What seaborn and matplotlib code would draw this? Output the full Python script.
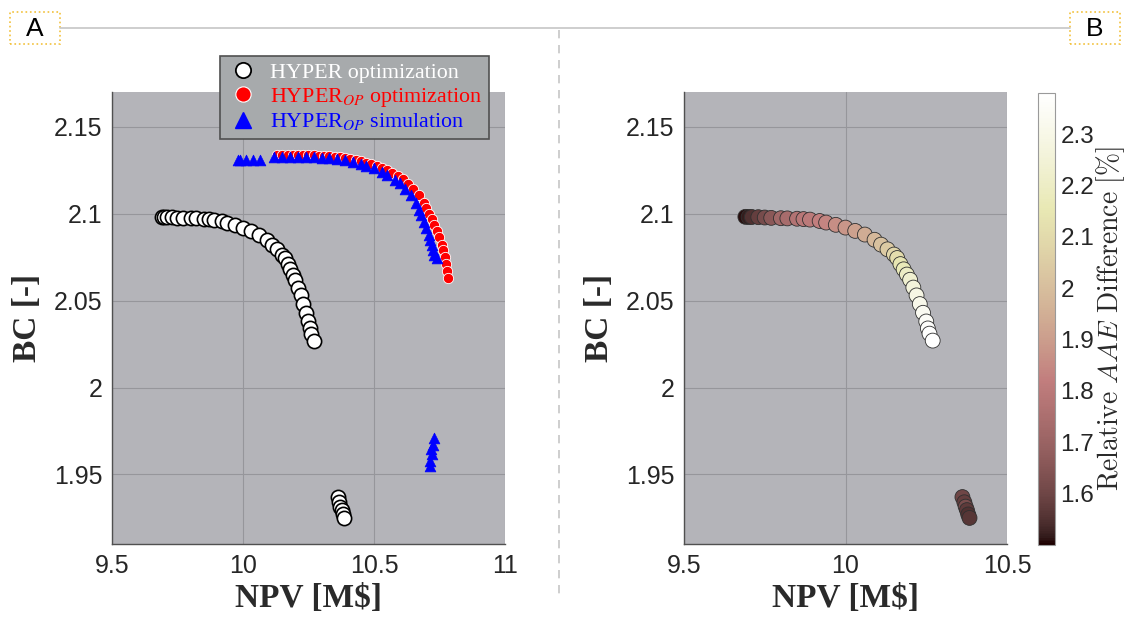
import matplotlib
matplotlib.use('Agg')
import matplotlib.pyplot as plt
import seaborn as sns
import pandas as pd
from matplotlib.lines import Line2D
from matplotlib.patches import Rectangle
from matplotlib.font_manager import FontProperties
from matplotlib.ticker import FuncFormatter
from matplotlib.cm import ScalarMappable
from matplotlib.colors import Normalize

# HYPER optimization front (panel A white circles, panel B coloured circles)
hyper_npv = [9.69, 9.70, 9.71, 9.73, 9.75, 9.77, 9.80, 9.82, 9.85, 9.87,
             9.89, 9.92, 9.94, 9.97, 10.00, 10.03, 10.06, 10.09, 10.11, 10.13,
             10.15, 10.16, 10.17, 10.18, 10.19, 10.20, 10.21, 10.22, 10.23, 10.24,
             10.25, 10.255, 10.26, 10.27,
             10.362, 10.368, 10.372, 10.376, 10.380, 10.384]
hyper_bc = [2.0982, 2.0981, 2.0981, 2.0980, 2.0978, 2.0976, 2.0974, 2.0973, 2.0971, 2.0969,
            2.0966, 2.0958, 2.0949, 2.0936, 2.0920, 2.0901, 2.0880, 2.0850, 2.0822, 2.0795,
            2.0765, 2.0745, 2.0710, 2.0680, 2.0650, 2.0620, 2.0575, 2.0530, 2.0480, 2.0430,
            2.0380, 2.0340, 2.0310, 2.0270,
            1.9370, 1.9340, 1.9315, 1.9295, 1.9270, 1.9250]
# relative AAE difference [%] for each HYPER point (panel B colours)
aae_diff = [1.51, 1.52, 1.55, 1.58, 1.62, 1.66, 1.72, 1.74, 1.77, 1.79,
            1.80, 1.82, 1.84, 1.86, 1.88, 1.91, 1.94, 1.98, 2.01, 2.04,
            2.08, 2.11, 2.14, 2.17, 2.20, 2.23, 2.26, 2.29, 2.31, 2.33,
            2.35, 2.36, 2.37, 2.38,
            1.60, 1.58, 1.62, 1.57, 1.55, 1.56]

# HYPER_OP optimization (red circles)
op_opt_npv = [10.13, 10.15, 10.17, 10.19, 10.21, 10.23, 10.25, 10.27, 10.29, 10.31,
              10.33, 10.35, 10.37, 10.39, 10.41, 10.43, 10.45, 10.47, 10.49, 10.51,
              10.53, 10.55, 10.57, 10.59, 10.61, 10.63, 10.65, 10.67, 10.69, 10.70,
              10.71, 10.72, 10.73, 10.74, 10.75, 10.76, 10.765, 10.77, 10.775, 10.78, 10.782]
op_opt_bc = [2.1335, 2.1336, 2.1337, 2.1337, 2.1337, 2.1336, 2.1336, 2.1335, 2.1334, 2.1333,
             2.1331, 2.1328, 2.1325, 2.1321, 2.1316, 2.1310, 2.1303, 2.1294, 2.1284, 2.1273,
             2.1262, 2.1250, 2.1234, 2.1218, 2.1197, 2.1172, 2.1140, 2.1105, 2.1060, 2.1030,
             2.1000, 2.0970, 2.0935, 2.0900, 2.0865, 2.0820, 2.0790, 2.0750, 2.0710, 2.0670, 2.0630]

# HYPER_OP simulation (blue triangles)
op_sim_npv = [9.98, 9.99, 10.01, 10.04, 10.065, 10.12, 10.15, 10.18, 10.21, 10.24,
              10.27, 10.30, 10.33, 10.36, 10.39, 10.42, 10.45, 10.47, 10.50, 10.53,
              10.55, 10.58, 10.60, 10.62, 10.64, 10.66, 10.67, 10.68, 10.69, 10.70,
              10.71, 10.715, 10.72, 10.725, 10.73, 10.74,
              10.712, 10.715, 10.72, 10.718, 10.725, 10.73]
op_sim_bc = [2.1310, 2.1310, 2.1310, 2.1310, 2.1310, 2.1325, 2.1327, 2.1328, 2.1328, 2.1327,
             2.1325, 2.1322, 2.1318, 2.1313, 2.1306, 2.1298, 2.1285, 2.1272, 2.1260, 2.1240,
             2.1225, 2.1195, 2.1175, 2.1140, 2.1110, 2.1060, 2.1020, 2.0990, 2.0950, 2.0920,
             2.0880, 2.0850, 2.0820, 2.0790, 2.0760, 2.0745,
             1.9550, 1.9580, 1.9615, 1.9645, 1.9670, 1.9710]

legend_labels = ['HYPER optimization', r'HYPER$_{OP}$ optimization', r'HYPER$_{OP}$ simulation']
bc_ticks = [1.95, 2.0, 2.05, 2.1, 2.15]
cbar_ticks = [1.6, 1.7, 1.8, 1.9, 2.0, 2.1, 2.2, 2.3]

sns.set_style('white')
plt.rcParams['font.family'] = ['Liberation Sans', 'DejaVu Sans']

W, H = 1131, 618
fig = plt.figure(figsize=(W / 100, H / 100), dpi=100)
ax_a = fig.add_axes([112 / W, 1 - 544 / H, 393 / W, 452 / H])
ax_b = fig.add_axes([684 / W, 1 - 544 / H, 323 / W, 452 / H])
cax = fig.add_axes([1038 / W, 1 - 545 / H, 17 / W, 452 / H])

fmt = FuncFormatter(lambda v, p: f'{v:g}')


def style_axes(ax, xticks):
    ax.set_facecolor('#b4b4b9')
    ax.grid(True, color='#96969b', lw=0.8)
    ax.set_axisbelow(True)
    for s in ['top', 'right']:
        ax.spines[s].set_visible(False)
    for s in ['left', 'bottom']:
        ax.spines[s].set_color('#505050')
        ax.spines[s].set_linewidth(1.0)
    ax.set_xlim(xticks[0], xticks[-1])
    ax.set_ylim(1.91, 2.17)
    ax.set_xticks(xticks)
    ax.set_yticks(bc_ticks)
    ax.xaxis.set_major_formatter(fmt)
    ax.yaxis.set_major_formatter(fmt)
    ax.tick_params(direction='in', length=5, color='#505050', labelsize=18,
                   labelcolor='#262626', pad=7)
    ax.set_xlabel('NPV [M$]', fontfamily='Liberation Serif', fontweight='bold',
                  fontsize=24, color='#2a2a2a', labelpad=4)
    ax.set_ylabel('BC [-]', fontfamily='Liberation Serif', fontweight='bold',
                  fontsize=24, color='#2a2a2a', labelpad=8)


# Panel A
style_axes(ax_a, [9.5, 10, 10.5, 11])
sns.scatterplot(x=hyper_npv, y=hyper_bc, ax=ax_a, s=105, color='white',
                edgecolor='black', linewidth=1.2, zorder=3)
sns.scatterplot(x=op_opt_npv, y=op_opt_bc, ax=ax_a, s=55, color='red',
                edgecolor='white', linewidth=0.6, zorder=4)
sns.scatterplot(x=op_sim_npv, y=op_sim_bc, ax=ax_a, s=60, marker='^', color='blue',
                edgecolor='blue', linewidth=0.5, zorder=5)

handles = [
    Line2D([], [], ls='', marker='o', ms=11, mfc='white', mec='black', mew=1.3),
    Line2D([], [], ls='', marker='o', ms=11, mfc='red', mec='white', mew=0.8),
    Line2D([], [], ls='', marker='^', ms=11, mfc='blue', mec='blue'),
]
leg = ax_a.legend(handles, legend_labels, loc='upper left',
                  bbox_to_anchor=(220 / W, 1 - 56 / H), bbox_transform=fig.transFigure,
                  prop=FontProperties(family='Liberation Serif', size=15.8, math_fontfamily='stix'),
                  frameon=True, fancybox=False, borderaxespad=0, borderpad=0.3,
                  handletextpad=0.5, labelspacing=0.12, handlelength=1.5)
leg.get_frame().set_facecolor('#a7aaac')
leg.get_frame().set_edgecolor('#505050')
leg.get_frame().set_linewidth(1.2)
leg.get_frame().set_alpha(1)
for t, c in zip(leg.get_texts(), ['white', 'red', 'blue']):
    t.set_color(c)

# Panel B
style_axes(ax_b, [9.5, 10, 10.5])
norm = Normalize(1.50, 2.38)
df_b = pd.DataFrame({'NPV': hyper_npv, 'BC': hyper_bc, 'AAE': aae_diff})
sns.scatterplot(data=df_b, x='NPV', y='BC', hue='AAE', palette='pink', hue_norm=norm,
                ax=ax_b, s=115, edgecolor='#303030', linewidth=0.6, legend=False, zorder=3)
ax_b.set_xlabel('NPV [M$]', fontfamily='Liberation Serif', fontweight='bold',
                fontsize=24, color='#2a2a2a', labelpad=4)
ax_b.set_ylabel('BC [-]', fontfamily='Liberation Serif', fontweight='bold',
                fontsize=24, color='#2a2a2a', labelpad=8)

sm = ScalarMappable(norm=norm, cmap='pink')
cb = fig.colorbar(sm, cax=cax)
cb.set_ticks(cbar_ticks)
cb.ax.yaxis.set_major_formatter(fmt)
cb.outline.set_edgecolor('#9a9a9a')
cb.outline.set_linewidth(0.8)
cax.tick_params(direction='in', length=4, color='#505050', labelsize=17.5,
                labelcolor='#262626', pad=4)
cax.set_ylabel(r'$\mathrm{Relative}\ AAE\ \mathrm{Difference}\ [\%]$', fontsize=20,
               math_fontfamily='cm', color='#2a2a2a', labelpad=0)

# frame decoration: panel tags, top rule, dashed divider
fig.add_artist(Line2D([60 / W, 1070 / W], [1 - 28 / H, 1 - 28 / H], color='#c6c6c6', lw=1.2))
fig.add_artist(Line2D([559 / W, 559 / W], [1 - 30 / H, 1 - 600 / H], color='#c6c6c6',
                      lw=1.2, ls=(0, (5, 4))))
for tag, x0 in [('A', 10), ('B', 1070)]:
    fig.add_artist(Rectangle((x0 / W, 1 - 44 / H), 50 / W, 32 / H, transform=fig.transFigure,
                             fill=True, fc='white', ec='#f2c13c', ls=':', lw=1.2))
    fig.text((x0 + 25) / W, 1 - 29 / H, tag, ha='center', va='center', fontsize=19,
             color='black', family=['Liberation Sans', 'DejaVu Sans'])

fig.savefig('out.png', dpi=100)
